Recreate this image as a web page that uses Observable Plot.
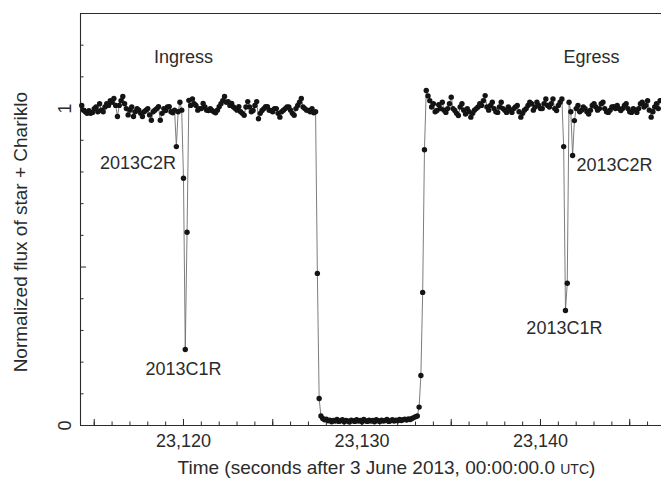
<!DOCTYPE html>
<html><head><meta charset="utf-8">
<script src="https://cdn.jsdelivr.net/npm/d3@7"></script>
<script src="https://cdn.jsdelivr.net/npm/@observablehq/plot@0.6"></script>
<style>
body{margin:0;background:#fff;overflow:hidden}
svg{font-family:"Liberation Sans",Arial,Helvetica,sans-serif}
</style>
</head><body><div id="chart"></div>
<script>
// Sampling grid of the light curve (seconds after 3 June 2013 00:00:00 UTC)
const startTime = 23114.3;
const cadence = 0.1;

// Normalized flux, in time order
const preIngress = [
  1.01, 0.995, 0.99, 0.985, 0.993, 0.985, 0.988, 1.0, 1.005, 0.99,
  1.015, 0.995, 0.99, 1.005, 1.015, 1.01, 1.025, 1.02, 1.032, 1.01,
  0.975, 1.01, 1.025, 1.038, 1.015, 1.0, 0.98, 0.995, 1.005, 0.975,
  0.99, 1.0, 0.995, 0.985, 0.975, 0.99, 0.995, 1.0, 0.98, 0.963,
  0.99, 0.995, 1.0, 1.006, 0.963, 0.985, 1.0, 0.994, 1.005, 1.006,
  0.99, 0.987, 0.995
];
const ingressRings = [0.88, 0.99, 1.02, 0.995, 0.78, 0.24, 0.61];
const preOccultation = [
  1.026, 1.01, 1.03, 1.015, 1.01, 0.995, 1.0, 1.0, 1.016, 1.005,
  0.995, 0.994, 1.0, 0.994, 0.99, 0.987, 0.995, 1.006, 1.015, 1.025,
  1.038, 1.02, 1.022, 1.01, 1.016, 1.005, 1.0, 0.995, 1.006, 0.99,
  0.985, 0.979, 1.005, 1.022, 1.005, 0.99, 0.994, 1.01, 1.022, 0.968,
  0.985, 0.994, 1.0, 1.006, 1.006, 0.995, 0.994, 0.99, 1.0, 1.0,
  0.985, 0.973, 0.99, 0.995, 1.0, 1.005, 1.005, 0.995, 0.985, 0.979,
  1.0, 1.01, 1.02, 1.032, 1.005, 1.0, 0.995, 0.994, 0.99, 1.0,
  0.987, 0.99
];
const mainIngress = [0.48, 0.085];
const occultation = [
  0.03, 0.022, 0.018, 0.02, 0.015, 0.017, 0.012, 0.016, 0.014, 0.019,
  0.013, 0.015, 0.018, 0.012, 0.016, 0.014, 0.011, 0.017, 0.015, 0.013,
  0.018, 0.014, 0.016, 0.012, 0.019, 0.015, 0.013, 0.017, 0.014, 0.016,
  0.012, 0.018, 0.015, 0.013, 0.017, 0.014, 0.016, 0.019, 0.013, 0.015,
  0.018, 0.014, 0.017, 0.015, 0.019, 0.016, 0.018, 0.02, 0.017, 0.021,
  0.019, 0.022, 0.025, 0.028, 0.03
];
const mainEgress = [0.058, 0.158, 0.42, 0.87, 1.057];
const postOccultation = [
  1.04, 1.025, 1.005, 1.015, 0.99, 0.994, 1.012, 1.0, 1.02, 0.995,
  0.988, 1.0, 1.015, 1.036, 1.0, 0.994, 0.985, 0.978, 1.005, 1.015,
  0.995, 0.983, 1.0, 0.99, 0.973, 0.985, 0.995, 1.0, 1.005, 1.015,
  1.01, 1.025, 1.041, 1.005, 0.995, 1.01, 1.02, 1.0, 0.99, 0.988,
  1.005, 1.02, 1.0, 0.995, 0.988, 1.005, 0.995, 0.988, 1.0, 1.005,
  1.01, 0.99, 0.973, 0.985, 0.995, 1.0, 1.01, 1.02, 1.015, 0.995,
  1.005, 1.02, 1.01, 1.0, 1.0, 1.015, 1.03, 1.01, 1.005, 1.015,
  1.03, 1.0, 0.994, 1.01, 1.02, 1.03
];
const egressRings = [0.88, 0.363, 0.449, 1.02, 0.99, 0.852, 0.962];
const postEgress = [
  1.0, 1.01, 0.99, 0.995, 1.005, 1.0, 0.99, 0.983, 0.995, 1.01,
  1.015, 1.005, 0.995, 1.0, 1.015, 1.02, 1.0, 0.99, 0.988, 0.995,
  1.005, 1.006, 1.0, 1.01, 1.0, 0.994, 1.0, 1.01, 1.015, 1.0,
  0.99, 0.988, 1.0, 0.995, 0.988, 1.0, 1.015, 1.02, 1.005, 1.01,
  1.025, 0.995, 0.973, 0.99, 1.005, 1.015, 1.0, 1.025
];

// Axis settings
const xDomain = [23114.23, 23146.78];
const yDomain = [0, 1.3];
const xMinorTicks = d3.range(23115, 23147, 1);
const xMajorTicks = [23115, 23120, 23125, 23130, 23135, 23140, 23145];
const xTickLabels = [23120, 23130, 23140];
const yMinorTicks = [0.1, 0.2, 0.3, 0.4, 0.6, 0.7, 0.8, 0.9, 1.1, 1.2];
const yMajorTicks = [0.5, 1];
const yTickLabels = [0, 1];
const xLabel = "Time (seconds after 3 June 2013, 00:00:00.0 UTC)";
const xLabelCenter = 23131.37;
const yLabel = "Normalized flux of star + Chariklo";
const yLabelCenter = 0.61;

// Annotations
const annotations = [
  {text: "Ingress", t: 23120.0, f: 1.161},
  {text: "Egress", t: 23142.86, f: 1.161},
  {text: "2013C2R", t: 23117.45, f: 0.826},
  {text: "2013C1R", t: 23120.0, f: 0.177},
  {text: "2013C1R", t: 23141.34, f: 0.306},
  {text: "2013C2R", t: 23144.15, f: 0.82}
];

const flux = [].concat(preIngress, ingressRings, preOccultation, mainIngress,
  occultation, mainEgress, postOccultation, egressRings, postEgress);
const data = flux.map((f, i) => ({t: +(startTime + i * cadence).toFixed(2), f}));

const ink = "#2b2b2b";
const fs = 18;
const xTickLen = 0.019, xMinorLen = 0.011;
const yTickLen = 0.34, yMinorLen = 0.2;

const chart = Plot.plot({
  width: 661,
  height: 478,
  marginLeft: 80,
  marginRight: 0,
  marginTop: 13,
  marginBottom: 53,
  x: {domain: xDomain, axis: null},
  y: {domain: yDomain, axis: null},
  style: {fontFamily: '"Liberation Sans", Arial, sans-serif', background: "#fff"},
  marks: [
    // frame
    Plot.ruleY([yDomain[0], yDomain[1]], {stroke: ink, strokeWidth: 1.1}),
    Plot.ruleX([xDomain[0]], {y1: yDomain[0], y2: yDomain[1], stroke: ink, strokeWidth: 1.1}),
    // inward ticks
    Plot.ruleX(xMinorTicks, {x: d => d, y1: 0, y2: xMinorLen, stroke: ink, strokeWidth: 1}),
    Plot.ruleX(xMajorTicks, {x: d => d, y1: 0, y2: xTickLen, stroke: ink, strokeWidth: 1}),
    Plot.ruleY(yMinorTicks, {y: d => d, x1: xDomain[0], x2: xDomain[0] + yMinorLen, stroke: ink, strokeWidth: 1}),
    Plot.ruleY(yMajorTicks, {y: d => d, x1: xDomain[0], x2: xDomain[0] + yTickLen, stroke: ink, strokeWidth: 1}),
    // tick labels
    Plot.text(xTickLabels, {x: d => d, y: 0, dy: 16, text: d => d3.format(",")(d), fontSize: fs, fill: ink}),
    Plot.text(yTickLabels, {x: xDomain[0], y: d => d, dx: -15, rotate: -90, text: d => String(d), fontSize: fs, fill: ink}),
    // axis titles
    Plot.text([xLabel], {x: xLabelCenter, y: 0, dy: 42, text: d => d, fontSize: 19, fill: ink}),
    Plot.text([yLabel], {x: xDomain[0], y: yLabelCenter, textAnchor: "middle", dx: -60, rotate: -90, text: d => d, fontSize: 19, fill: ink}),
    // light curve
    Plot.line(data, {x: "t", y: "f", stroke: "#6e6e6e", strokeWidth: 0.9}),
    Plot.dot(data, {x: "t", y: "f", r: 2.7, fill: "#141414", stroke: "none"}),
    // annotations
    Plot.text(annotations, {x: "t", y: "f", text: "text", fontSize: fs, fill: ink})
  ]
});

// small caps for "UTC"
chart.querySelectorAll("text").forEach(el => {
  if (el.textContent.includes("UTC")) {
    const full = el.textContent;
    const [before, after] = full.split("UTC");
    while (el.firstChild) el.removeChild(el.firstChild);
    el.appendChild(document.createTextNode(before));
    const ts = document.createElementNS("http://www.w3.org/2000/svg", "tspan");
    ts.setAttribute("font-size", 14);
    ts.textContent = "UTC";
    el.appendChild(ts);
    el.appendChild(document.createTextNode(after));
  }
});

document.getElementById("chart").appendChild(chart);
</script>
</body></html>
